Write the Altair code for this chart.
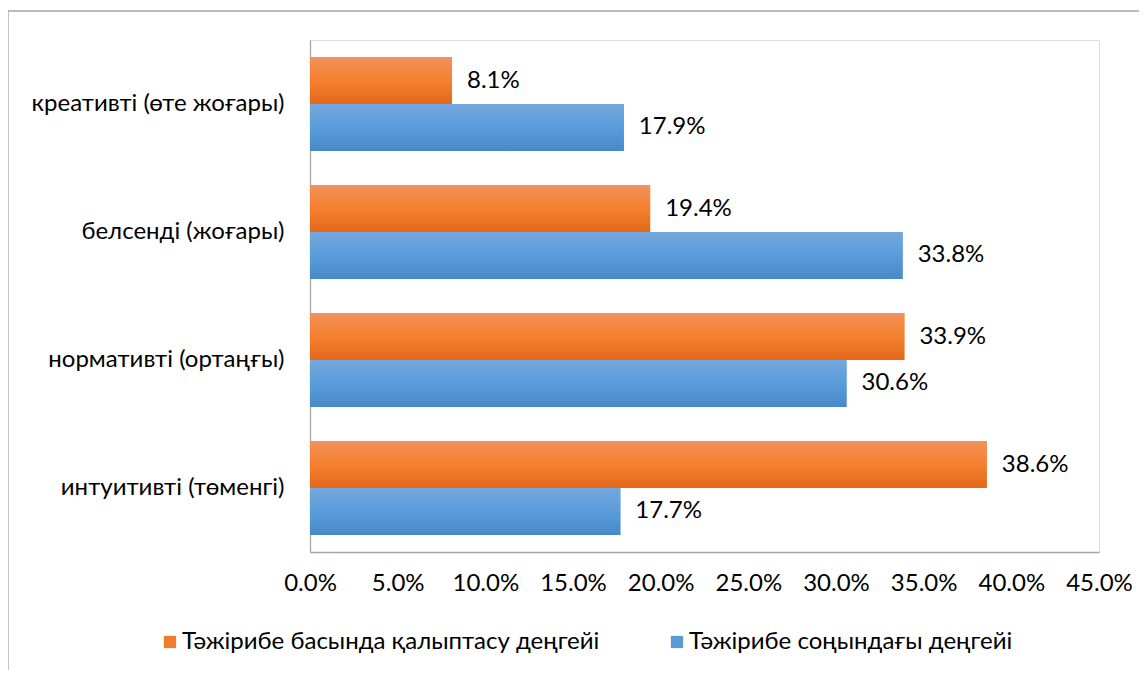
import altair as alt
import pandas as pd

categories = [
    "креативті (өте жоғары)",
    "белсенді (жоғары)",
    "нормативті (ортаңғы)",
    "интуитивті (төменгі)",
]
series_names = ["Тәжірибе басында қалыптасу деңгейі", "Тәжірибе соңындағы деңгейі"]
start_values = [8.1, 19.4, 33.9, 38.6]
end_values = [17.9, 33.8, 30.6, 17.7]
x_ticks = [0, 5, 10, 15, 20, 25, 30, 35, 40, 45]

rows = []
for c, v in zip(categories, start_values):
    rows.append({"cat": c, "series": series_names[0], "value": v})
for c, v in zip(categories, end_values):
    rows.append({"cat": c, "series": series_names[1], "value": v})
df = pd.DataFrame(rows)

FONT = "Lato, Noto Sans, sans-serif"
FS = 24
ORANGE = "#F07D2E"
BLUE = "#5B9BD5"

orange_grad = alt.Gradient(
    gradient="linear", x1=0, x2=0, y1=0, y2=1,
    stops=[alt.GradientStop(color="#F2925C", offset=0),
           alt.GradientStop(color="#F5802F", offset=0.5),
           alt.GradientStop(color="#E2681A", offset=1)],
)
blue_grad = alt.Gradient(
    gradient="linear", x1=0, x2=0, y1=0, y2=1,
    stops=[alt.GradientStop(color="#74A8DD", offset=0),
           alt.GradientStop(color="#5A9CDB", offset=0.5),
           alt.GradientStop(color="#4789C9", offset=1)],
)

y_enc = alt.Y(
    "cat:N", sort=categories, title=None,
    scale=alt.Scale(paddingInner=0.266, paddingOuter=0.133),
    axis=alt.Axis(labelFont=FONT, labelFontSize=FS, labelColor="#000000",
                  labelPadding=26, labelLimit=500, ticks=False,
                  domainColor="#A6A6A6", domainWidth=1.3),
)
yoff_enc = alt.YOffset("series:N", sort=series_names,
                       scale=alt.Scale(domain=series_names))
x_enc = alt.X(
    "value:Q", title=None,
    scale=alt.Scale(domain=[0, 45], nice=False),
    axis=alt.Axis(values=x_ticks, labelExpr="format(datum.value, '.1f') + '%'",
                  labelFont=FONT, labelFontSize=FS, labelColor="#000000",
                  labelPadding=19, labelOverlap=False, labelFlush=False,
                  ticks=False, grid=False,
                  domainColor="#A6A6A6", domainWidth=1.3),
)

base = alt.Chart(df)

legend_bars = base.mark_bar().encode(
    y=y_enc, yOffset=yoff_enc, x=x_enc,
    color=alt.Color(
        "series:N", sort=series_names,
        scale=alt.Scale(domain=series_names, range=[ORANGE, BLUE]),
        legend=alt.Legend(
            title=None, orient="none", direction="horizontal",
            legendX=-152, legendY=590,
            labelFont=FONT, labelFontSize=FS, labelColor="#000000",
            symbolType="square", symbolSize=150, symbolStrokeWidth=0,
            columnPadding=65, labelOffset=0, labelLimit=600,
        ),
    ),
)

orange_bars = base.transform_filter(
    alt.datum.series == series_names[0]
).mark_bar(fill=orange_grad).encode(y=y_enc, yOffset=yoff_enc, x=x_enc)

blue_bars = base.transform_filter(
    alt.datum.series == series_names[1]
).mark_bar(fill=blue_grad).encode(y=y_enc, yOffset=yoff_enc, x=x_enc)

labels = base.mark_text(
    align="left", baseline="middle", dx=15, font=FONT, fontSize=FS, color="#000000"
).encode(
    y=y_enc, yOffset=yoff_enc, x=x_enc,
    text=alt.Text("label:N"),
).transform_calculate(label="format(datum.value, '.1f') + '%'")

border = alt.Chart(pd.DataFrame({"a": [0]})).mark_rect(
    fill=None, stroke="#A6A6A6", strokeWidth=1.3
).encode(
    x=alt.value(-302), x2=alt.value(1200),
    y=alt.value(-29), y2=alt.value(800),
)

chart = alt.layer(border, legend_bars, orange_bars, blue_bars, labels).resolve_scale(
    yOffset="shared"
).properties(
    width=789, height=512,
    autosize=alt.AutoSizeParams(type="none"),
    padding={"left": 302, "top": 32, "right": 40, "bottom": 118},
).configure_view(stroke=None).configure(background="white")

chart.save("out.html", embed_options={"renderer": "svg", "actions": False})
